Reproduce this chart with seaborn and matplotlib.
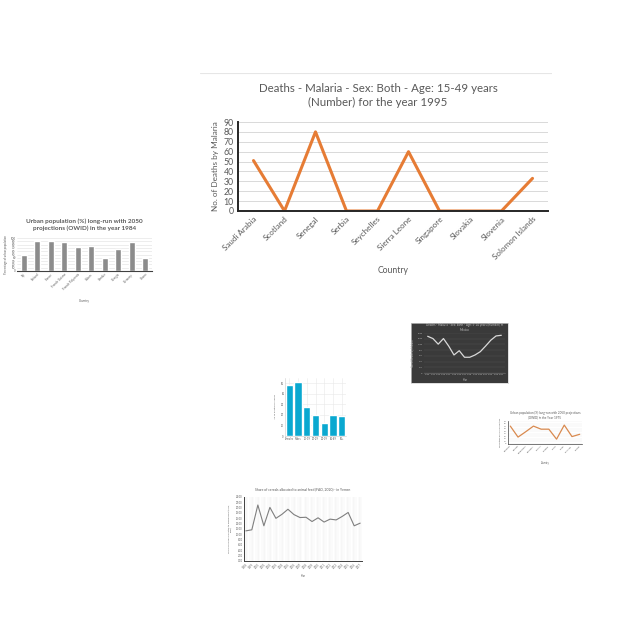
import numpy as np
import pandas as pd
import seaborn as sns
import matplotlib.pyplot as plt

sns.set_theme(style="white")
plt.rcParams['font.family'] = ['Lato', 'DejaVu Sans']

# Grafico principal: muertes por malaria 1995
paises_malaria = ["Saudi Arabia", "Scotland", "Senegal", "Serbia", "Seychelles",
                  "Sierra Leone", "Singapore", "Slovakia", "Slovenia", "Solomon Islands"]
muertes_malaria = [51, 0, 80, 0, 0, 60, 0, 0, 0, 33]

# Poblacion urbana 1984 (barras grises)
paises_urbana = ["Fiji", "Finland", "France", "French Guiana", "French Polynesia",
                 "Gabon", "Gambia", "Georgia", "Germany", "Ghana"]
urbana_1984 = [48, 91, 90, 88, 72, 75, 39, 67, 89, 39]

# Grafico oscuro (linea blanca)
anios_oscuro = [str(a) for a in range(1990, 2005)]
valores_oscuro = [1285, 1205, 1010, 1205, 941, 631, 780, 551, 551, 631, 746, 941, 1148, 1297, 1320]

# Barras azules
grupos_azul = ["Females", "Males", "10-19", "20-29", "30-39", "40-49", "50+"]
valores_azul = [48.4, 51.6, 27.2, 20.3, 12.8, 20.3, 18.8]

# Linea naranja pequena: poblacion urbana 1975
paises_1975 = ["Bahamas", "Bahrain", "Bangladesh", "Barbados", "Belarus",
               "Belgium", "Belize", "Benin", "Bermuda", "Bhutan"]
urbana_1975 = [70, 27, 48, 70, 58, 58, 19, 74, 29, 38]

# Cereales para alimento animal
anios_cereal = [str(a) for a in range(1998, 2018)]
cereal = [11.3, 11.7, 21.0, 13.2, 20.1, 16.0, 17.5, 19.4, 17.4, 16.3,
          16.4, 14.8, 16.2, 14.6, 15.7, 15.4, 16.7, 18.2, 13.2, 14.2]

W = 640.0
def caja(x0, y0, x1, y1):
    return [x0 / W, 1 - y1 / W, (x1 - x0) / W, (y1 - y0) / W]

fig = plt.figure(figsize=(6.4, 6.4), dpi=100)
gris = "#595959"

# ---- marco del grafico principal (linea superior)
marco = fig.add_axes(caja(200, 73, 552, 290))
marco.set_axis_off()
marco.axhline(1, color="#E6E6E6", lw=0.8)
marco.set_ylim(0, 1)

# ---- grafico principal
ax = fig.add_axes(caja(238, 122, 548, 211))
df_m = pd.DataFrame({"pais": paises_malaria, "muertes": muertes_malaria})
sns.lineplot(data=df_m, x="pais", y="muertes", sort=False, color="#E67C35", lw=2.2, ax=ax)
ax.set_xlim(-0.5, 9.5)
ax.set_ylim(0, 90)
ax.set_yticks(range(0, 91, 10))
ax.yaxis.grid(True, color="#D9D9D9", lw=0.7)
for s in ["top", "right"]:
    ax.spines[s].set_visible(False)
ax.spines["left"].set_color("#262626")
ax.spines["bottom"].set_color("#262626")
ax.spines["left"].set_linewidth(1.4)
ax.spines["bottom"].set_linewidth(1.4)
ax.tick_params(axis="y", labelsize=6.3, colors=gris, length=0, pad=3)
ax.tick_params(axis="x", labelsize=5.8, colors=gris, length=0, pad=3)
plt.setp(ax.get_xticklabels(), rotation=45, ha="right", rotation_mode="anchor")
fig.text(378 / W, 1 - 95.5 / W,
         "Deaths - Malaria - Sex: Both - Age: 15-49 years\n(Number) for the year 1995",
         fontsize=8.3, color=gris, ha="center", va="center", linespacing=1.35)
ax.set_ylabel("No. of Deaths by Malaria", fontsize=5.9, color=gris, labelpad=3)
ax.set_xlabel("Country", fontsize=6.2, color=gris, labelpad=4)

# ---- barras grises (poblacion urbana 1984)
ax1 = fig.add_axes(caja(17, 238, 152, 271))
df_u = pd.DataFrame({"pais": paises_urbana, "valor": urbana_1984})
sns.barplot(data=df_u, x="pais", y="valor", color="#8C8C8C", width=0.48, ax=ax1)
ax1.set_ylim(0, 100)
ax1.set_yticks(range(0, 101, 10))
ax1.yaxis.grid(True, color="#E0E0E0", lw=0.4)
ax1.set_axisbelow(True)
for s in ["top", "right", "left"]:
    ax1.spines[s].set_visible(False)
ax1.spines["bottom"].set_color("#404040")
ax1.spines["bottom"].set_linewidth(0.8)
ax1.tick_params(axis="both", labelsize=2.1, colors=gris, length=0, pad=1)
plt.setp(ax1.get_xticklabels(), rotation=45, ha="right", rotation_mode="anchor")
ax1.set_title("Urban population (%) long-run with 2050\nprojections (OWID) in the year 1984",
              fontsize=4.6, color=gris, fontweight="bold", pad=6)
ax1.set_ylabel("Percentage of urban population", fontsize=2, color=gris, labelpad=2)
ax1.set_xlabel("Country", fontsize=2.2, color=gris, labelpad=6)

# ---- grafico oscuro
fondo = fig.add_axes(caja(411, 323, 508, 383))
fondo.set_xticks([])
fondo.set_yticks([])
fondo.set_facecolor("#3A3A3A")
for s in fondo.spines.values():
    s.set_color("#D0D0D0")
    s.set_linewidth(0.5)
ax2 = fig.add_axes(caja(424, 333, 505, 373))
ax2.set_facecolor("#3A3A3A")
df_o = pd.DataFrame({"anio": anios_oscuro, "valor": valores_oscuro})
sns.lineplot(data=df_o, x="anio", y="valor", sort=False, color="#D9D9D9", lw=0.9, ax=ax2)
ax2.set_ylim(0, 1400)
ax2.set_yticks(range(0, 1401, 200))
ax2.yaxis.grid(True, color="#555555", lw=0.3)
for s in ["top", "right", "left"]:
    ax2.spines[s].set_visible(False)
ax2.spines["bottom"].set_color("#777777")
ax2.spines["bottom"].set_linewidth(0.4)
ax2.tick_params(axis="both", labelsize=1.6, colors="#BFBFBF", length=0, pad=1)
ax2.set_title("Deaths - Malaria - Sex: Both - Age: 5-14 years (Number) in\nMexico",
              fontsize=2.2, color="#BFBFBF", pad=1.5)
ax2.set_ylabel("No. of Deaths by Malaria", fontsize=1.8, color="#BFBFBF", labelpad=2)
ax2.set_xlabel("Year", fontsize=1.8, color="#BFBFBF", labelpad=2)

# ---- barras azules
ax3 = fig.add_axes(caja(285, 378, 346, 436))
df_a = pd.DataFrame({"grupo": grupos_azul, "valor": valores_azul})
sns.barplot(data=df_a, x="grupo", y="valor", color="#0AA8D0", width=0.85, ax=ax3,
            saturation=1)
ax3.set_ylim(0, 55)
ax3.set_yticks(range(0, 51, 10))
ax3.grid(True, color="#E8E8E8", lw=0.4)
ax3.set_axisbelow(True)
for s in ["top", "right"]:
    ax3.spines[s].set_visible(False)
ax3.spines["left"].set_color("#CCCCCC")
ax3.spines["bottom"].set_color("#CCCCCC")
ax3.spines["left"].set_linewidth(0.4)
ax3.spines["bottom"].set_linewidth(0.4)
ax3.tick_params(axis="both", labelsize=1.8, colors=gris, length=0, pad=1)
ax3.set_ylabel("No. of Deaths by Malaria", fontsize=1.6, color=gris, labelpad=3)
ax3.set_xlabel("")

# ---- linea naranja pequena
ax4 = fig.add_axes(caja(508, 421, 582, 444))
df_n = pd.DataFrame({"pais": paises_1975, "valor": urbana_1975})
sns.lineplot(data=df_n, x="pais", y="valor", sort=False, color="#D98A4F", lw=0.9, ax=ax4)
ax4.set_xlim(-0.3, 9.3)
ax4.set_ylim(0, 90)
ax4.set_yticks(range(0, 91, 10))
ax4.yaxis.grid(True, color="#EAEAEA", lw=0.3)
for s in ["top", "right"]:
    ax4.spines[s].set_visible(False)
ax4.spines["left"].set_color("#404040")
ax4.spines["bottom"].set_color("#404040")
ax4.spines["left"].set_linewidth(0.5)
ax4.spines["bottom"].set_linewidth(0.5)
ax4.tick_params(axis="both", labelsize=1.6, colors=gris, length=0, pad=1)
plt.setp(ax4.get_xticklabels(), rotation=45, ha="right", rotation_mode="anchor")
ax4.set_title("Urban population (%) long-run with 2050 projections\n(OWID) in the Year 1975",
              fontsize=2.2, color=gris, pad=2)
ax4.set_ylabel("Percentage of urban population", fontsize=1.5, color=gris, labelpad=2)
ax4.set_xlabel("Country", fontsize=1.8, color=gris, labelpad=5)

# ---- cereales para alimento animal
ax5 = fig.add_axes(caja(244, 497, 362, 561))
df_c = pd.DataFrame({"anio": anios_cereal, "valor": cereal})
sns.lineplot(data=df_c, x="anio", y="valor", sort=False, color="#7F7F7F", lw=0.8, ax=ax5)
ax5.set_xlim(-0.3, 19.3)
ax5.set_ylim(0, 24)
ax5.set_yticks(range(0, 25, 2))
ax5.set_yticklabels([f"{v:.2f}" for v in range(0, 25, 2)])
ax5.xaxis.grid(True, color="#E6E6E6", lw=0.3)
ax5.set_xticks(np.arange(-0.25, 19.3, 0.5), minor=True)
ax5.grid(True, which="minor", axis="x", color="#EFEFEF", lw=0.3)
for s in ["top", "right"]:
    ax5.spines[s].set_visible(False)
ax5.spines["left"].set_color("#404040")
ax5.spines["bottom"].set_color("#404040")
ax5.spines["left"].set_linewidth(0.7)
ax5.spines["bottom"].set_linewidth(0.7)
ax5.tick_params(axis="both", labelsize=1.8, colors=gris, length=0, pad=1)
ax5.tick_params(axis="x", which="minor", length=0)
plt.setp(ax5.get_xticklabels(), rotation=45, ha="right", rotation_mode="anchor")
ax5.set_title("Share of cereals allocated to animal feed (FAO, 2020) - in Yemen",
              fontsize=2.4, color=gris, pad=5)
ax5.set_ylabel("Share of cereals allocated to animal feed (FAO,\n2020)",
               fontsize=1.7, color=gris, labelpad=3)
ax5.set_xlabel("Year", fontsize=1.8, color=gris, labelpad=3)

fig.savefig("out.png", dpi=100)
